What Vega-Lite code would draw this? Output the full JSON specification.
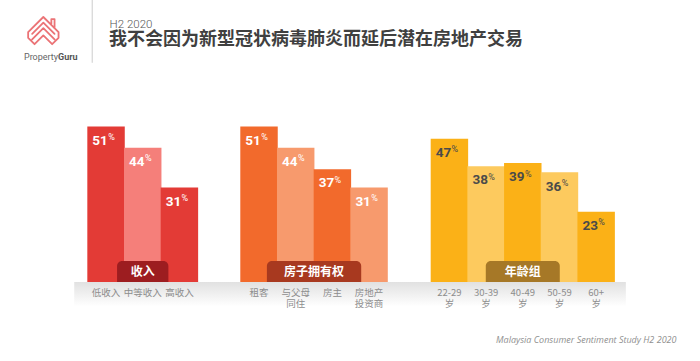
{
  "$schema": "https://vega.github.io/schema/vega-lite/v6.json",
  "width": 536.8,
  "height": 155.5,
  "autosize": {"type": "none"},
  "padding": {"left": 82.7, "top": 126.5, "right": 80.5, "bottom": 79},
  "background": "white",
  "config": {
    "view": {"stroke": null},
    "axis": {"grid": false, "domain": false, "ticks": false, "labels": false}
  },
  "datasets": {
    "bars": [
      {"group": "收入", "label": "低收入", "value": 51, "pos": 0.5},
      {"group": "收入", "label": "中等收入", "value": 44, "pos": 1.5},
      {"group": "收入", "label": "高收入", "value": 31, "pos": 2.5},
      {"group": "房子拥有权", "label": "租客", "value": 51, "pos": 4.67},
      {"group": "房子拥有权", "label": "与父母\n同住", "value": 44, "pos": 5.67},
      {"group": "房子拥有权", "label": "房主", "value": 37, "pos": 6.67},
      {"group": "房子拥有权", "label": "房地产\n投资商", "value": 31, "pos": 7.67},
      {"group": "年龄组", "label": "22-29\n岁", "value": 47, "pos": 9.86},
      {"group": "年龄组", "label": "30-39\n岁", "value": 38, "pos": 10.86},
      {"group": "年龄组", "label": "40-49\n岁", "value": 39, "pos": 11.86},
      {"group": "年龄组", "label": "50-59\n岁", "value": 36, "pos": 12.86},
      {"group": "年龄组", "label": "60+\n岁", "value": 23, "pos": 13.86}
    ]
  },
  "data": {"name": "bars"},
  "layer": [
    {
      "data": {"values": [{"part": "band"}]},
      "mark": {
        "type": "rect",
        "fill": {
          "gradient": "linear", "x1": 0, "y1": 0, "x2": 0, "y2": 1,
          "stops": [{"offset": 0, "color": "#e1e1e1"}, {"offset": 1, "color": "#ffffff"}]
        }
      },
      "encoding": {
        "x": {"datum": -0.367, "type": "quantitative", "axis": null, "scale": {"domain": [0, 14.36], "nice": false, "zero": false}},
        "x2": {"datum": 14.67},
        "y": {"datum": 0, "type": "quantitative", "axis": null, "scale": {"domain": [0, 51], "nice": false, "zero": false}},
        "y2": {"datum": -8}
      }
    },
    {
      "mark": {"type": "bar", "width": 37.45},
      "encoding": {
        "x": {"field": "pos", "type": "quantitative", "axis": null, "scale": {"domain": [0, 14.36], "nice": false, "zero": false}},
        "y": {"field": "value", "type": "quantitative", "axis": null, "scale": {"domain": [0, 51], "nice": false, "zero": false}},
        "color": {
          "field": "label", "type": "nominal", "legend": null,
          "scale": {
            "domain": ["低收入", "中等收入", "高收入", "租客", "与父母\n同住", "房主", "房地产\n投资商", "22-29\n岁", "30-39\n岁", "40-49\n岁", "50-59\n岁", "60+\n岁"],
            "range": ["#e33b36", "#f57f7a", "#e33b36", "#f26a2c", "#f79a6d", "#f26a2c", "#f79a6d", "#fbb117", "#fdca5e", "#fbb117", "#fdca5e", "#fbb117"]
          }
        }
      }
    },
    {
      "transform": [{"aggregate": [{"op": "mean", "field": "pos", "as": "center"}], "groupby": ["group"]}],
      "mark": {"type": "bar", "cornerRadiusTopLeft": 5, "cornerRadiusTopRight": 5},
      "encoding": {
        "x": {"field": "center", "type": "quantitative", "axis": null},
        "y": {"datum": 6.9, "type": "quantitative", "axis": null},
        "y2": {"datum": 0},
        "size": {
          "condition": [
            {"test": "datum.group === '收入'", "value": 51.3},
            {"test": "datum.group === '房子拥有权'", "value": 94.3}
          ],
          "value": 74
        },
        "fill": {
          "condition": [
            {"test": "datum.group === '收入'", "value": "#9d1d20"},
            {"test": "datum.group === '房子拥有权'", "value": "#a8391f"}
          ],
          "value": "#a67827"
        }
      }
    },
    {
      "transform": [{"aggregate": [{"op": "mean", "field": "pos", "as": "center"}], "groupby": ["group"]}],
      "mark": {"type": "text", "dy": -10.5, "baseline": "middle", "color": "#ffffff", "font": "Noto Sans CJK SC", "fontSize": 12, "fontWeight": "bold"},
      "encoding": {
        "x": {"field": "center", "type": "quantitative", "axis": null},
        "y": {"datum": 0, "type": "quantitative", "axis": null},
        "text": {"field": "group"}
      }
    },
    {
      "mark": {"type": "text", "align": "right", "dx": 1.8, "dy": 18.3, "baseline": "alphabetic", "font": "Roboto", "fontSize": 13.5, "fontWeight": "bold"},
      "encoding": {
        "x": {"field": "pos", "type": "quantitative", "axis": null},
        "y": {"field": "value", "type": "quantitative", "axis": null},
        "text": {"field": "value"},
        "color": {"condition": {"test": "datum.group === '年龄组'", "value": "#4a4a4a"}, "value": "#ffffff"}
      }
    },
    {
      "mark": {"type": "text", "align": "left", "dx": 2.2, "dy": 13.5, "baseline": "alphabetic", "font": "Roboto", "fontSize": 9},
      "encoding": {
        "x": {"field": "pos", "type": "quantitative", "axis": null},
        "y": {"field": "value", "type": "quantitative", "axis": null},
        "text": {"value": "%"},
        "color": {"condition": {"test": "datum.group === '年龄组'", "value": "#4a4a4a"}, "value": "#ffffff"}
      }
    },
    {
      "mark": {"type": "text", "baseline": "top", "dy": 6, "lineBreak": "\n", "lineHeight": 11, "font": "Noto Sans CJK SC", "fontSize": 9.5, "color": "#8d8d8d"},
      "encoding": {
        "x": {"field": "pos", "type": "quantitative", "axis": null},
        "y": {"datum": 0, "type": "quantitative", "axis": null},
        "text": {"field": "label"}
      }
    },
    {
      "data": {"values": [{"part": "logo"}]},
      "mark": {
        "type": "point", "filled": false, "stroke": "#e3393d", "strokeWidth": 1.8, "strokeJoin": "round", "strokeCap": "round",
        "shape": "M-0.55 0.95L-0.95 0.55L-0.95 0.2L0 -0.75L0.95 0.2L0.95 0.55L0.55 0.95L0 0.4Z M-0.7 0.3L0 -0.4L0.7 0.3 M-0.7 0.65L0 -0.05L0.7 0.65 M0.5 -0.25L0.5 -0.62L0.7 -0.62L0.7 -0.05"
      },
      "encoding": {
        "x": {"datum": -1.209, "type": "quantitative", "axis": null},
        "y": {"datum": 82.98, "type": "quantitative", "axis": null},
        "size": {"value": 1024}
      }
    },
    {
      "data": {"values": [{"part": "logo"}]},
      "mark": {"type": "text", "align": "right", "baseline": "middle", "font": "Roboto", "fontSize": 9, "color": "#666666"},
      "encoding": {
        "x": {"datum": -0.808, "type": "quantitative", "axis": null},
        "y": {"datum": 73.9, "type": "quantitative", "axis": null},
        "text": {"value": "Property"}
      }
    },
    {
      "data": {"values": [{"part": "logo"}]},
      "mark": {"type": "text", "align": "left", "baseline": "middle", "font": "Roboto", "fontSize": 9, "fontWeight": "bold", "color": "#555555"},
      "encoding": {
        "x": {"datum": -0.808, "type": "quantitative", "axis": null},
        "y": {"datum": 73.9, "type": "quantitative", "axis": null},
        "text": {"value": "Guru"}
      }
    },
    {
      "data": {"values": [{"part": "divider"}]},
      "mark": {"type": "rule", "color": "#cccccc", "strokeWidth": 1},
      "encoding": {
        "x": {"datum": 0.123, "type": "quantitative", "axis": null},
        "y": {"datum": 92.5, "type": "quantitative", "axis": null},
        "y2": {"datum": 71.9}
      }
    },
    {
      "data": {"values": [{"part": "period"}]},
      "mark": {"type": "text", "align": "left", "baseline": "alphabetic", "font": "Roboto", "fontSize": 11.5, "fontWeight": 300, "color": "#555555"},
      "encoding": {
        "x": {"datum": 0.597, "type": "quantitative", "axis": null},
        "y": {"datum": 83.3, "type": "quantitative", "axis": null},
        "text": {"value": "H2 2020"}
      }
    },
    {
      "data": {"values": [{"part": "headline"}]},
      "mark": {"type": "text", "align": "left", "baseline": "alphabetic", "font": "Noto Sans CJK SC", "fontSize": 18, "fontWeight": "bold", "color": "#404040"},
      "encoding": {
        "x": {"datum": 0.58, "type": "quantitative", "axis": null},
        "y": {"datum": 77.7, "type": "quantitative", "axis": null},
        "text": {"value": "我不会因为新型冠状病毒肺炎而延后潜在房地产交易"}
      }
    },
    {
      "data": {"values": [{"part": "source"}]},
      "mark": {"type": "text", "align": "right", "baseline": "middle", "font": "Open Sans", "fontSize": 9, "fontStyle": "italic", "color": "#8f8f8f"},
      "encoding": {
        "x": {"datum": 16.05, "type": "quantitative", "axis": null},
        "y": {"datum": -19.02, "type": "quantitative", "axis": null},
        "text": {"value": "Malaysia Consumer Sentiment Study H2 2020"}
      }
    }
  ]
}
